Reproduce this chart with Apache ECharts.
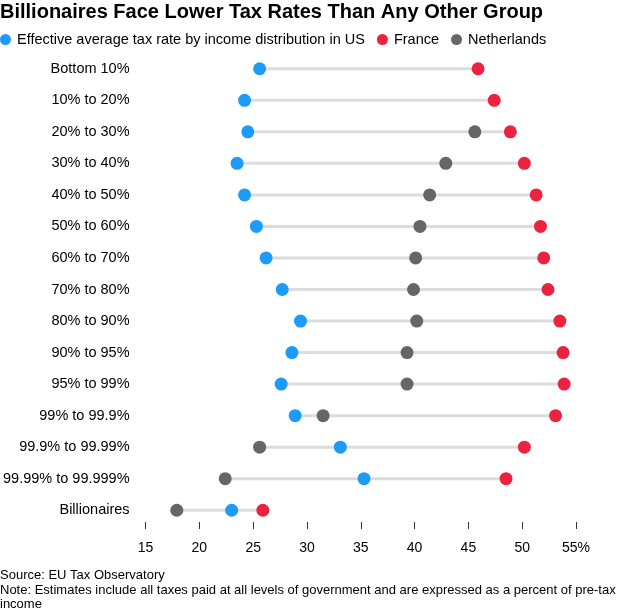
<!DOCTYPE html>
<html>
<head>
<meta charset="utf-8">
<script src="https://cdn.jsdelivr.net/npm/echarts@6/dist/echarts.min.js"></script>
<style>
html,body{margin:0;padding:0;background:#fff;}
#chart{width:618px;height:614px;}
</style>
</head>
<body>
<div id="chart"></div>
<script>
const categories = ["Bottom 10%","10% to 20%","20% to 30%","30% to 40%","40% to 50%","50% to 60%","60% to 70%","70% to 80%","80% to 90%","90% to 95%","95% to 99%","99% to 99.9%","99.9% to 99.99%","99.99% to 99.999%","Billionaires"];
const usValues = [25.6,24.2,24.5,23.5,24.2,25.3,26.2,27.7,29.4,28.6,27.6,28.9,33.1,35.3,23.0];
const franceValues = [45.9,47.4,48.9,50.2,51.3,51.7,52.0,52.4,53.5,53.8,53.9,53.1,50.2,48.5,25.9];
const netherlandsValues = [null,null,45.6,42.9,41.4,40.5,40.1,39.9,40.2,39.3,39.3,31.5,25.6,22.4,17.9];
const xTicks = [15,20,25,30,35,40,45,50,55];

const FONT = "'Liberation Sans', Arial, Helvetica, sans-serif";
const rangeData = categories.map((c, i) => {
  const vals = [usValues[i], franceValues[i], netherlandsValues[i]].filter(v => v !== null);
  return [i, Math.min(...vals), Math.max(...vals)];
});

const chart = echarts.init(document.getElementById('chart'), null, {renderer: 'canvas'});
chart.setOption({
  animation: false,
  backgroundColor: '#fff',
  textStyle: {fontFamily: FONT},
  title: {
    text: 'Billionaires Face Lower Tax Rates Than Any Other Group',
    left: 0, top: 0, padding: [2, 0, 0, 0],
    textStyle: {fontFamily: FONT, fontWeight: 'bold', fontSize: 20, color: '#000'}
  },
  legend: {
    left: 0, top: 32, padding: 0,
    icon: 'circle', itemWidth: 11, itemHeight: 11, itemGap: 12,
    textStyle: {fontSize: 14.5, color: '#000', fontFamily: FONT, padding: [0,0,0,1]},
    data: ['Effective average tax rate by income distribution in US','France','Netherlands']
  },
  grid: {left: 145, right: 42, top: 53, bottom: 88, containLabel: false},
  xAxis: {
    type: 'value', min: 15, max: 55, interval: 5,
    offset: -4,
    axisLine: {show: false},
    axisTick: {show: true, length: 7, lineStyle: {color: '#333', width: 1}},
    splitLine: {show: false},
    axisLabel: {
      margin: 19, fontSize: 14, color: '#000', fontFamily: FONT,
      formatter: v => xTicks.includes(v) ? (v === 55 ? v + '%' : String(v)) : ''
    }
  },
  yAxis: {
    type: 'category', data: categories, inverse: true,
    axisLine: {show: false}, axisTick: {show: false},
    axisLabel: {margin: 16, fontSize: 14.5, color: '#000', fontFamily: FONT}
  },
  series: [
    {
      type: 'custom', name: 'range', silent: true, z: 1,
      renderItem: (params, api) => {
        const p1 = api.coord([api.value(1), api.value(0)]);
        const p2 = api.coord([api.value(2), api.value(0)]);
        return {type: 'line', shape: {x1: p1[0], y1: p1[1], x2: p2[0], y2: p2[1]},
                style: {stroke: '#dcdcdc', lineWidth: 3}};
      },
      encode: {x: [1, 2], y: 0},
      data: rangeData
    },
    {
      type: 'scatter', name: 'Effective average tax rate by income distribution in US',
      symbolSize: 13, z: 3,
      itemStyle: {color: '#1d9bf9', opacity: 1},
      data: usValues.map((v, i) => [v, categories[i]])
    },
    {
      type: 'scatter', name: 'France', symbolSize: 13, z: 3,
      itemStyle: {color: '#ea2340', opacity: 1},
      data: franceValues.map((v, i) => [v, categories[i]])
    },
    {
      type: 'scatter', name: 'Netherlands', symbolSize: 13, z: 3,
      itemStyle: {color: '#666666', opacity: 1},
      data: netherlandsValues.map((v, i) => [v, categories[i]]).filter(d => d[0] !== null)
    }
  ],
  graphic: [
    {type: 'text', left: 0, top: 569, style: {text: 'Source: EU Tax Observatory', font: "13px " + FONT, fill: '#000'}},
    {type: 'text', left: 0, top: 584, style: {text: 'Note: Estimates include all taxes paid at all levels of government and are expressed as a percent of pre-tax\nincome', font: "13px " + FONT, fill: '#000', lineHeight: 13.5}}
  ]
});
</script>
</body>
</html>
